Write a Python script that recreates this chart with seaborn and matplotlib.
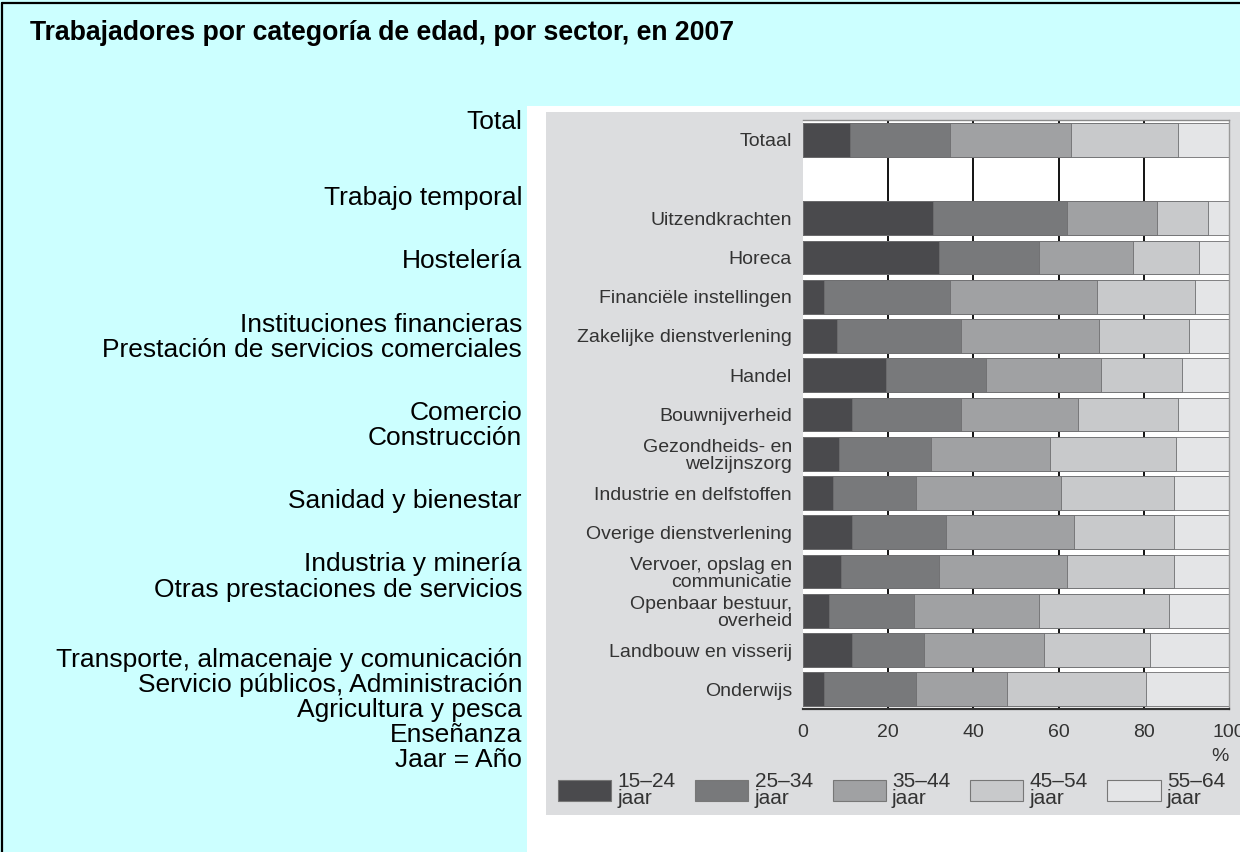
import pandas as pd
import matplotlib
matplotlib.use("Agg")
import matplotlib.pyplot as plt
from matplotlib.patches import Rectangle, Patch
from matplotlib.lines import Line2D
import seaborn as sns

# ---- data (share of workers per age group, %) ----
sectors = ["Totaal", "Uitzendkrachten", "Horeca", "Financiële instellingen",
           "Zakelijke dienstverlening", "Handel", "Bouwnijverheid",
           "Gezondheids- en\nwelzijnszorg", "Industrie en delfstoffen",
           "Overige dienstverlening", "Vervoer, opslag en\ncommunicatie",
           "Openbaar bestuur,\noverheid", "Landbouw en visserij", "Onderwijs"]
age_15_24 = [11, 30.5, 32, 5, 8, 19.5, 11.5, 8.5, 7, 11.5, 9, 6, 11.5, 5]
age_25_34 = [23.5, 31.5, 23.5, 29.5, 29, 23.5, 25.5, 21.5, 19.5, 22, 23, 20, 17, 21.5]
age_35_44 = [28.5, 21, 22, 34.5, 32.5, 27, 27.5, 28, 34, 30, 30, 29.5, 28, 21.5]
age_45_54 = [25, 12, 15.5, 23, 21, 19, 23.5, 29.5, 26.5, 23.5, 25, 30.5, 25, 32.5]
age_55_64 = [12, 5, 7, 8, 9.5, 11, 12, 12.5, 13, 13, 13, 14, 18.5, 19.5]

groups = ["15–24\njaar", "25–34\njaar", "35–44\njaar", "45–54\njaar", "55–64\njaar"]
colors = ["#4a4a4d", "#78797b", "#a0a1a3", "#c8c9cb", "#e4e5e7"]

spanish_labels = ["Total", "Trabajo temporal", "Hostelería", "Instituciones financieras",
                  "Prestación de servicios comerciales", "Comercio", "Construcción",
                  "Sanidad y bienestar", "Industria y minería",
                  "Otras prestaciones de servicios", "Transporte, almacenaje y comunicación",
                  "Servicio públicos, Administración", "Agricultura y pesca", "Enseñanza",
                  "Jaar = Año"]
spanish_y = [122, 198, 261, 325, 350, 413, 438, 501, 564, 590, 660, 685, 710, 735, 760]

title = "Trabajadores por categoría de edad, por sector, en 2007"

# empty row after Totaal
order = [sectors[0], " "] + sectors[1:]

df = pd.DataFrame({"sector": sectors, "a": age_15_24, "b": age_25_34,
                   "c": age_35_44, "d": age_45_54, "e": age_55_64})
cols = ["a", "b", "c", "d", "e"]
cum = df[cols].cumsum(axis=1)
cum["sector"] = df["sector"]

sns.set_theme(style="white")
plt.rcParams["font.family"] = ["Liberation Sans", "DejaVu Sans"]

W, H = 1240, 852
fig = plt.figure(figsize=(12.4, 8.52), dpi=100, facecolor="#ccffff")

# white pasted image + grey panel (behind the axes)
fig.patches.append(Rectangle((527 / W, 0), 1 - 527 / W, 1 - 106 / H,
                             transform=fig.transFigure, facecolor="white",
                             edgecolor="none", zorder=-2))
fig.patches.append(Rectangle((546 / W, 1 - 815 / H), 1 - 546 / W, (815 - 112) / H,
                             transform=fig.transFigure, facecolor="#dcdddf",
                             edgecolor="none", zorder=-1))
# black frame lines (top and left)
fig.lines.append(Line2D([2 / W, 1], [1 - 3 / H, 1 - 3 / H], transform=fig.transFigure,
                        color="black", lw=1.6))
fig.lines.append(Line2D([2 / W, 2 / W], [0, 1 - 3 / H], transform=fig.transFigure,
                        color="black", lw=1.6))

ax = fig.add_axes([803 / W, 1 - 709 / H, (1229 - 803) / W, (709 - 120) / H])
ax.set_facecolor("white")

# stacked bars: draw cumulative totals from outermost to innermost
for col, c in reversed(list(zip(cols, colors))):
    sns.barplot(data=cum, y="sector", x=col, order=order, orient="h",
                color=c, saturation=1, width=0.86, errorbar=None,
                edgecolor="#6e6e70", linewidth=0.6, ax=ax)

ax.set_xlim(0, 100)
ax.set_ylim(len(order) - 0.5, -0.5)
ax.set_xticks([0, 20, 40, 60, 80, 100])
ax.set_xticklabels(["0", "20", "40", "60", "80", "100"], fontsize=14, color="#333333")
ax.set_yticks(range(len(order)))
ax.set_yticklabels([s if s.strip() else "" for s in order], fontsize=14,
                   color="#333333", linespacing=1.0)
ax.tick_params(axis="both", length=0)
ax.tick_params(axis="y", pad=8)
ax.tick_params(axis="x", pad=11)
ax.set_ylabel("")
ax.set_xlabel("%", loc="right", fontsize=14, color="#333333", labelpad=5)

ax.grid(axis="x", color="black", lw=1.3)
ax.grid(axis="y", visible=False)
ax.set_axisbelow(True)
gl = ax.xaxis.get_gridlines()
gl[0].set_visible(False)
gl[-1].set_visible(False)
ax.spines["left"].set_visible(False)
ax.spines["right"].set_color("#9a9a9a")
ax.spines["right"].set_linewidth(1.0)
ax.spines["top"].set_color("#8a8a8a")
ax.spines["top"].set_linewidth(1.0)
ax.spines["bottom"].set_color("#333333")
ax.spines["bottom"].set_linewidth(1.6)

# legend
handles = [Patch(facecolor=c, edgecolor="#777777", linewidth=0.8) for c in colors]
leg = fig.legend(handles, groups, loc="upper left", bbox_to_anchor=(558 / W, 1 - 772 / H),
                 ncol=5, frameon=False, fontsize=15, handlelength=2.55, handleheight=1.15,
                 handletextpad=0.3, columnspacing=0.95, borderpad=0, borderaxespad=0,
                 labelspacing=0, labelcolor="#333333")
for t in leg.get_texts():
    t.set_linespacing(0.85)

# title and Spanish translation column
fig.text(30 / W, 1 - 33 / H, title, fontsize=19.2, fontweight="bold",
         ha="left", va="center", color="black")
for lab, y in zip(spanish_labels, spanish_y):
    fig.text(522 / W, 1 - y / H, lab, fontsize=19, ha="right", va="center",
             color="black")

fig.savefig("out.png", dpi=100, facecolor=fig.get_facecolor())
